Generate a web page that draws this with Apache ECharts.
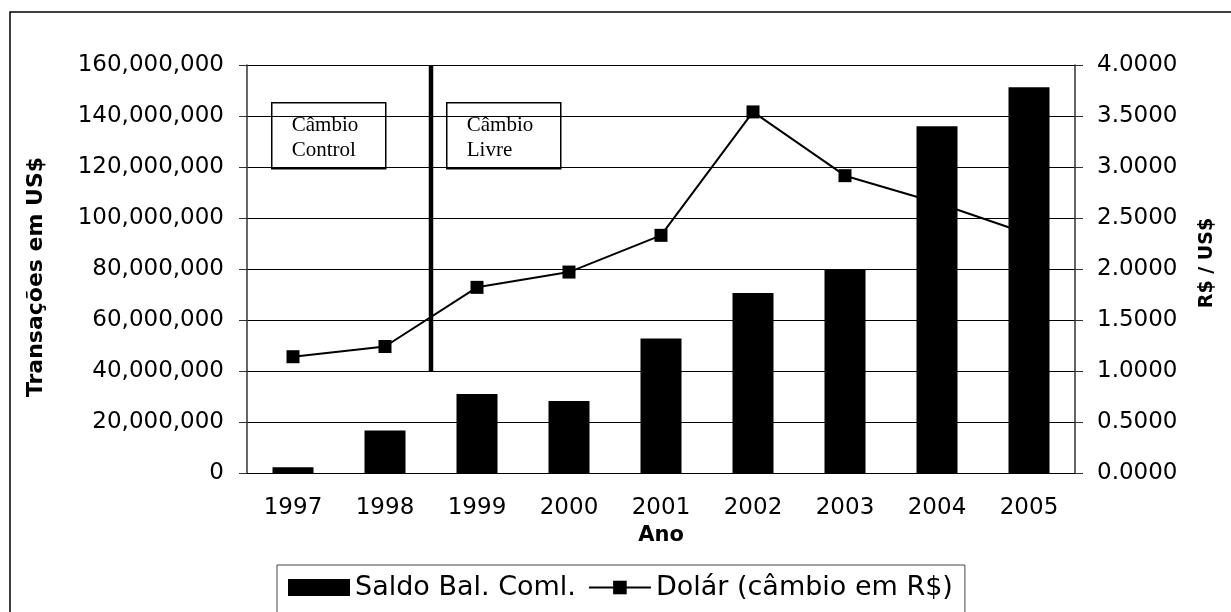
<!DOCTYPE html>
<html>
<head>
<meta charset="utf-8">
<script src="https://cdn.jsdelivr.net/npm/echarts@6/dist/echarts.min.js"></script>
<style>
  html, body { margin: 0; padding: 0; background: #fff; }
  #chart { width: 1231px; height: 612px; }
</style>
</head>
<body>
<div id="chart"></div>
<script>
// anos e valores
const anos = ['1997', '1998', '1999', '2000', '2001', '2002', '2003', '2004', '2005'];
const saldoBalComl = [2300000, 16700000, 31000000, 28200000, 52700000, 70600000, 79600000, 136000000, 151300000];
const dolar = [1.14, 1.24, 1.82, 1.97, 2.33, 3.54, 2.915, 2.65, 2.34];
// quebra entre câmbio controlado e câmbio livre (entre 1998 e 1999)
const quebraCambio = [[1.5, 1.0], [1.5, 4.0]];

const fonte = 'DejaVu Sans';
const myChart = echarts.init(document.getElementById('chart'));

function caixa(x, texto) {
    return {
        type: 'group',
        left: x,
        top: 102,
        children: [
            { type: 'rect', shape: { x: 0, y: 0, width: 114, height: 66 },
              style: { fill: '#fff', stroke: '#000', lineWidth: 1.5 } },
            { type: 'text', x: 20, y: 10,
              style: { text: texto, font: '21px "Liberation Serif"', fill: '#000', lineHeight: 25 } }
        ]
    };
}

const option = {
    animation: false,
    backgroundColor: '#fff',
    textStyle: { fontFamily: fonte },
    grid: { left: 247, right: 156, top: 65, bottom: 139 },
    legend: {
        left: 277,
        top: 565,
        data: [
            { name: 'Saldo Bal. Coml.', icon: 'rect' },
            'Dolár (câmbio em R$)'
        ],
        borderColor: '#444',
        borderWidth: 1,
        padding: [9, 12, 30, 11],
        itemWidth: 62,
        itemHeight: 17,
        itemGap: 12,
        textStyle: { fontSize: 27, color: '#000', fontFamily: fonte }
    },
    xAxis: [
        {
            type: 'category',
            data: anos,
            name: 'Ano',
            nameLocation: 'middle',
            nameGap: 50,
            nameTextStyle: { fontSize: 21, fontWeight: 'bold', color: '#000' },
            axisLine: { lineStyle: { color: '#000', width: 1 } },
            axisTick: { length: 7, lineStyle: { color: '#000' } },
            axisLabel: { fontSize: 23, color: '#000', margin: 24 }
        },
        { type: 'value', min: -0.5, max: 8.5, show: false }
    ],
    yAxis: [
        {
            type: 'value',
            min: 0,
            max: 160000000,
            interval: 20000000,
            name: 'Transações em US$',
            nameLocation: 'middle',
            nameGap: 200,
            nameTextStyle: { fontSize: 22, fontWeight: 'bold', color: '#000', padding: [0, 16, 0, 0] },
            axisLine: { show: true, onZero: false, lineStyle: { color: '#333', width: 1.5 } },
            axisTick: { show: true, length: 8, lineStyle: { color: '#333' } },
            axisLabel: {
                fontSize: 23, color: '#000', margin: 23,
                formatter: v => v.toLocaleString('en-US')
            },
            splitLine: { lineStyle: { color: '#000', width: 1 } }
        },
        {
            type: 'value',
            min: 0,
            max: 4,
            interval: 0.5,
            name: 'R$ / US$',
            nameLocation: 'middle',
            nameGap: 123,
            nameTextStyle: { fontSize: 19, fontWeight: 'bold', color: '#000', padding: [0, 0, 0, 12] },
            axisLine: { show: true, onZero: false, lineStyle: { color: '#333', width: 1.5 } },
            axisTick: { show: true, length: 8, lineStyle: { color: '#333' } },
            axisLabel: {
                fontSize: 23, color: '#000', margin: 22,
                formatter: v => v.toFixed(4)
            },
            splitLine: { show: false }
        }
    ],
    series: [
        {
            name: 'Dolár (câmbio em R$)',
            type: 'line',
            yAxisIndex: 1,
            data: dolar,
            symbol: 'rect',
            symbolSize: 13,
            itemStyle: { color: '#000' },
            lineStyle: { color: '#000', width: 2 },
            z: 2
        },
        {
            name: 'Saldo Bal. Coml.',
            type: 'bar',
            data: saldoBalComl,
            barWidth: 41,
            itemStyle: { color: '#000' },
            z: 3
        },
        {
            name: 'quebra',
            type: 'line',
            xAxisIndex: 1,
            yAxisIndex: 1,
            data: quebraCambio,
            symbol: 'none',
            lineStyle: { color: '#000', width: 4.5 },
            z: 4
        }
    ],
    graphic: [
        { type: 'rect', z: -10, silent: true,
          shape: { x: 10, y: 12, width: 1400, height: 800 },
          style: { fill: 'none', stroke: '#000', lineWidth: 1.5 } },
        caixa(271, 'Câmbio\nControl'),
        caixa(446, 'Câmbio\nLivre')
    ]
};

myChart.setOption(option);

window.addEventListener('resize', function () {
    myChart.resize();
});
</script>
</body>
</html>
